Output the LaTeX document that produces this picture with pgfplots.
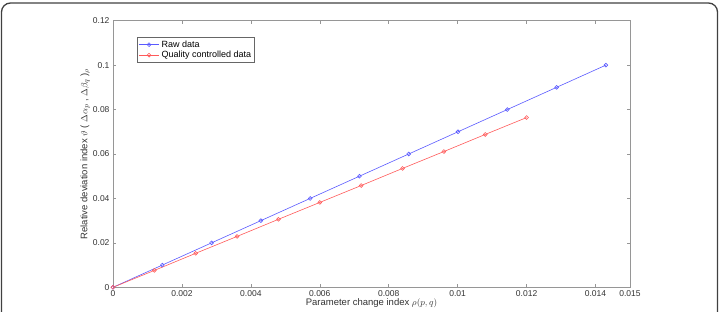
\documentclass[border=0pt]{standalone}
\usepackage{fontspec}
\setmainfont{Liberation Sans}
\usepackage{pgfplots}
\pgfplotsset{compat=1.18}
\definecolor{rawblue}{RGB}{90,90,255}
\definecolor{qcred}{RGB}{255,90,90}
\definecolor{axgray}{RGB}{150,150,150}
\begin{document}
\begin{tikzpicture}[x=1pt,y=1pt]
\useasboundingbox (0,0) rectangle (721,312);
\clip (0,0) rectangle (721,312);
\draw[line width=1.3pt, black!75, rounded corners=9pt] (1.5,-20) rectangle (717.5,309);
\begin{axis}[
  at={(113pt,24.7pt)}, anchor=south west,
  scale only axis, width=517pt, height=266.6pt,
  xmin=0, xmax=0.015, ymin=0, ymax=0.12,
  xtick={0,0.002,0.004,0.006,0.008,0.01,0.012,0.014,0.015},
  xticklabels={0,0.002,0.004,0.006,0.008,0.01,0.012,0.014,0.015},
  ytick={0,0.02,0.04,0.06,0.08,0.1,0.12},
  yticklabels={0,0.02,0.04,0.06,0.08,0.1,0.12},
  scaled ticks=false,
  tick align=inside, major tick length=3pt,
  axis line style={axgray, line width=0.8pt},
  tick style={axgray, line width=0.6pt},
  ticklabel style={font=\fontsize{8.5}{9}\selectfont, text=black!80},
  /pgf/number format/assume math mode=true,
  xlabel={Parameter change index $\rho(p,q)$},
  ylabel={Relative deviation index $\vartheta$ ( $\Delta\alpha_p$ , $\Delta\beta_q$ )$_\rho$},
  label style={font=\fontsize{9.5}{10}\selectfont, text=black!80},
  xlabel style={at={(axis description cs:0.5,-0.06)}, anchor=center},
  ylabel style={at={(axis description cs:-0.054,0.5)}, anchor=center, rotate=0},
  legend style={at={(axis description cs:0.046,0.939)}, anchor=north west,
    font=\fontsize{9}{10}\selectfont, draw=black!60, inner sep=1.5pt,
    row sep=-1.5pt, cells={anchor=west}},
  legend image code/.code={
    \draw[mark repeat=2,mark phase=2,#1] plot coordinates {(0cm,0cm) (0.36cm,0cm) (0.72cm,0cm)};},
]
\addplot[rawblue, line width=0.6pt, mark=o, mark size=1.9pt] coordinates {
(0,0) (0.00143,0.01) (0.00286,0.02) (0.00429,0.03) (0.00572,0.04) (0.00715,0.05)
(0.00858,0.06) (0.01001,0.07) (0.01144,0.08) (0.01287,0.09) (0.0143,0.1)};
\addlegendentry{Raw data}
\addplot[qcred, line width=0.6pt, mark=o, mark size=1.9pt] coordinates {
(0,0) (0.0012,0.0076) (0.0024,0.0153) (0.0036,0.0229) (0.0048,0.0306) (0.006,0.0382)
(0.0072,0.0458) (0.0084,0.0535) (0.0096,0.0611) (0.0108,0.0688) (0.012,0.0764)};
\addlegendentry{Quality controlled data}
\end{axis}
\end{tikzpicture}
\end{document}
